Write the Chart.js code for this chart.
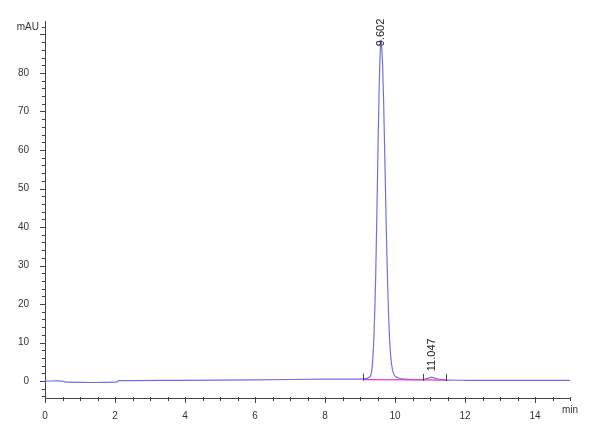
<!DOCTYPE html>
<html>
<head>
<meta charset="utf-8">
<script src="https://cdn.jsdelivr.net/npm/chart.js@4/dist/chart.umd.min.js"></script>
<style>
  html, body { margin: 0; padding: 0; background: #fff; }
  #wrap { width: 600px; height: 440px; }
</style>
</head>
<body>
<div id="wrap"><canvas id="chart"></canvas></div>
<script>
// retention time (min) and signal (mAU)
const times = [0, 0.5, 0.6, 2.05, 2.1, 4, 6, 8, 9.0, 9.2, 9.3, 9.35, 9.4, 9.45, 9.5, 9.55, 9.6,
    9.65, 9.7, 9.75, 9.8, 9.85, 9.9, 9.95, 10.0, 10.1, 10.2, 10.4, 10.8, 10.9, 11.0, 11.05,
    11.1, 11.2, 11.4, 12, 13, 14, 15];
const signal = [0, 0, -0.3, -0.3, 0.1, 0.2, 0.3, 0.5, 0.5, 0.7, 1.3, 4, 12, 28, 53, 77, 88.5,
    81, 62, 40, 22, 10, 4.5, 2.2, 1.3, 0.8, 0.6, 0.45, 0.4, 0.6, 0.9, 1.0,
    0.9, 0.6, 0.3, 0.2, 0.2, 0.2, 0.2];

// integration baseline (magenta)
const baseTimes = [9.08, 10.8, 11.46];
const baseValues = [0.35, 0.3, 0.25];

// peak annotations
const peakTimes = [9.602, 11.047];
const peakHeights = [88.5, 1.0];
const peakLabels = ["9.602", "11.047"];

const xTicks = [0, 2, 4, 6, 8, 10, 12, 14];
const yTicks = [0, 10, 20, 30, 40, 50, 60, 70, 80, 90];

const trace = times.map((t, i) => ({ x: t, y: signal[i] }));
const baseline = baseTimes.map((t, i) => ({ x: t, y: baseValues[i] }));

// tick marks, unit labels, peak labels
const decor = {
    id: "decor",
    afterDraw(c) {
        const ctx = c.ctx;
        const xs = c.scales.x, ys = c.scales.y;
        ctx.save();
        ctx.strokeStyle = "#444";
        ctx.lineWidth = 1;
        // y ticks every 2, major every 10
        for (let v = -4; v <= 92; v += 2) {
            const py = Math.round(ys.getPixelForValue(v)) + 0.5;
            const len = v % 10 === 0 ? 5 : 3;
            ctx.beginPath();
            ctx.moveTo(xs.left - len, py);
            ctx.lineTo(xs.left, py);
            ctx.stroke();
        }
        // x ticks every 0.5, major every 2
        for (let v = 0; v <= 15; v += 0.5) {
            const px = Math.round(xs.getPixelForValue(v)) + 0.5;
            const len = v % 2 === 0 ? 5 : 3;
            ctx.beginPath();
            ctx.moveTo(px, ys.bottom - 1);
            ctx.lineTo(px, ys.bottom + len);
            ctx.stroke();
        }
        // integration marks
        baseTimes.forEach((t, i) => {
            const px = Math.round(xs.getPixelForValue(t)) + 0.5;
            const py = ys.getPixelForValue(baseValues[i]);
            ctx.beginPath();
            ctx.moveTo(px, py + 1);
            ctx.lineTo(px, py - 6);
            ctx.stroke();
        });
        ctx.fillStyle = "#333";
        ctx.font = "10px 'Liberation Sans', Arial, sans-serif";
        ctx.textAlign = "right";
        ctx.textBaseline = "middle";
        ctx.fillText("mAU", xs.left - 6, ys.getPixelForValue(92));
        ctx.textAlign = "left";
        ctx.textBaseline = "top";
        ctx.fillText("min", xs.right - 8, ys.bottom + 7);
        // rotated peak labels
        ctx.font = "11px 'Liberation Sans', Arial, sans-serif";
        ctx.fillStyle = "#222";
        peakTimes.forEach((t, i) => {
            const px = xs.getPixelForValue(t);
            const py = ys.getPixelForValue(peakHeights[i]);
            ctx.save();
            ctx.translate(px, i === 0 ? py + 6 : py - 6);
            ctx.rotate(-Math.PI / 2);
            ctx.textAlign = "left";
            ctx.textBaseline = "middle";
            ctx.fillText(peakLabels[i], 0, 0);
            ctx.restore();
        });
        ctx.restore();
    }
};

const ctx = document.getElementById("chart").getContext("2d");
new Chart(ctx, {
    type: "scatter",
    data: {
        datasets: [
            { data: trace, showLine: true, borderColor: "rgb(112,112,228)", borderWidth: 1.2,
              pointRadius: 0, tension: 0.3, order: 2 },
            { data: baseline, showLine: true, borderColor: "rgb(232,60,205)", borderWidth: 1.2,
              pointRadius: 0, order: 1 }
        ]
    },
    options: {
        responsive: true,
        maintainAspectRatio: false,
        animation: false,
        layout: { padding: { top: 21, right: 30, left: 0, bottom: 17 } },
        plugins: { legend: { display: false }, tooltip: { enabled: false } },
        scales: {
            x: {
                type: "linear", min: 0, max: 15,
                afterBuildTicks: s => { s.ticks = xTicks.map(v => ({ value: v })); },
                afterFit: s => { s.height = 25; },
                grid: { display: false },
                border: { display: true, color: "#444", width: 1 },
                ticks: { color: "#333", padding: 4, maxRotation: 0,
                         font: { size: 10, family: "'Liberation Sans', Arial, sans-serif" } }
            },
            y: {
                type: "linear", min: -4.4, max: 93.5,
                afterBuildTicks: s => { s.ticks = yTicks.map(v => ({ value: v })); },
                afterFit: s => { s.width = 45; },
                grid: { display: false },
                border: { display: true, color: "#444", width: 1 },
                ticks: { color: "#333", padding: 8,
                         callback: v => (v === 90 ? "" : v),
                         font: { size: 10, family: "'Liberation Sans', Arial, sans-serif" } }
            }
        }
    },
    plugins: [decor]
});
</script>
</body>
</html>
